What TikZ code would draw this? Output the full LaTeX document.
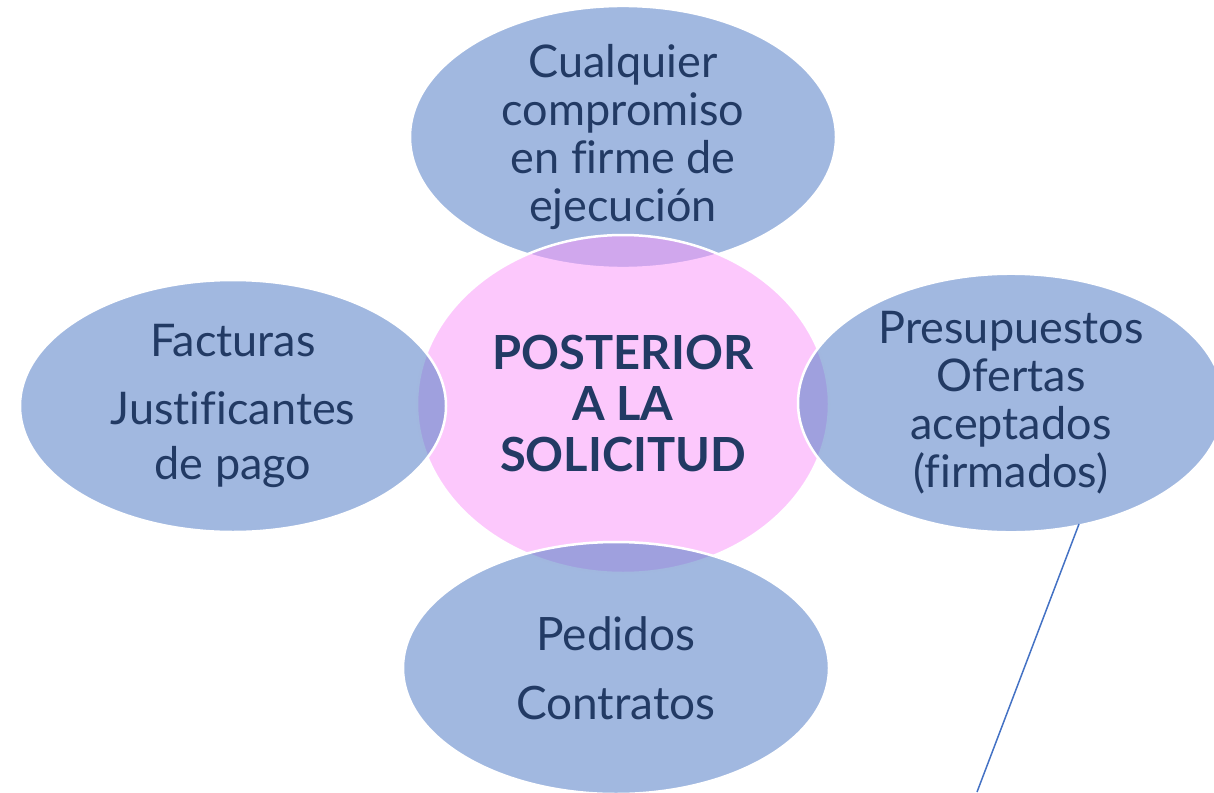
\documentclass[tikz,border=0pt]{standalone}
\usepackage{fontspec}
\setmainfont{Lato}[Ligatures=CommonOff]
\usetikzlibrary{shapes.geometric}
\definecolor{pinkC}{RGB}{250,152,250}
\definecolor{blueC}{RGB}{90,130,200}
\definecolor{txtC}{RGB}{34,58,100}
\definecolor{lineC}{RGB}{68,114,196}
\tikzset{
  blob/.style={ellipse, draw=white, line width=2.5pt, inner sep=0pt,
    text=txtC, text opacity=1, draw opacity=1, align=center},
  outerblob/.style={blob, fill=blueC, fill opacity=0.57,
    minimum width=426pt, minimum height=252pt,
    font=\fontsize{45}{48}\selectfont},
  centerblob/.style={blob, fill=pinkC, fill opacity=0.53,
    minimum width=412pt, minimum height=338pt,
    font=\fontsize{47}{51}\selectfont\bfseries},
  leader/.style={draw=lineC, line width=1.5pt}
}
\begin{document}
\begin{tikzpicture}[x=1pt,y=-1pt]
\useasboundingbox (0,0) rectangle (1214,792);
\node[outerblob] (top) at (623,137) {Cualquier\\compromiso\\en firme de\\ejecución};
\node[centerblob] (mid) at (623,404) {POSTERIOR\\A LA\\SOLICITUD};
\node[outerblob] (left) at (233,406) {Facturas\\[20pt]Justificantes\\[7pt]de pago};
\node[outerblob] (right) at (1011,403) {Presupuestos\\Ofertas\\aceptados\\(firmados)};
\node[outerblob, font=\fontsize{46}{48}\selectfont] (bottom) at (616,668) {Pedidos\\[21pt]Contratos};
\coordinate (lead) at (1079,524);
\coordinate (leadend) at (977,792);
\draw[leader] (lead) -- (leadend);
\end{tikzpicture}
\end{document}
